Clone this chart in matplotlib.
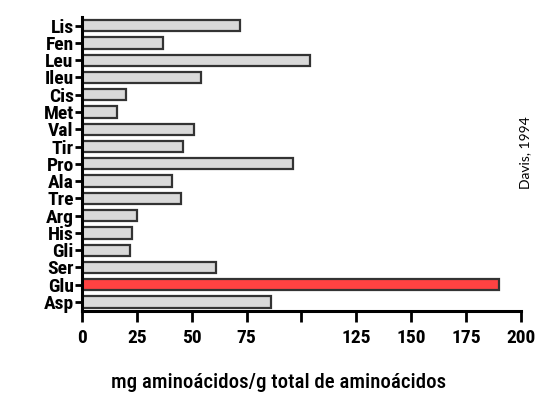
import matplotlib.pyplot as plt

plt.rcParams['font.family'] = ['DejaVu Sans Condensed', 'Liberation Sans Narrow',
                               'Roboto Condensed', 'Liberation Sans', 'DejaVu Sans']

# amino acids, top to bottom as in the picture
aminoacidos = ['Lis', 'Fen', 'Leu', 'Ileu', 'Cis', 'Met', 'Val', 'Tir', 'Pro',
               'Ala', 'Tre', 'Arg', 'His', 'Gli', 'Ser', 'Glu', 'Asp']
valores = [72, 37, 104, 54, 20, 16, 51, 46, 96, 41, 45, 25, 23, 22, 61, 190, 86]
destaque = 'Glu'

xticks = [0, 25, 50, 75, 100, 125, 150, 175, 200]
xtick_labels = ['0', '25', '50', '75', '', '125', '150', '175', '200']

fig = plt.figure(figsize=(5.38, 3.95), dpi=100)
ax = fig.add_axes([0.1524, 0.2127, 0.8160, 0.7443])

n = len(aminoacidos)
pos = list(range(n - 1, -1, -1))
cores = ['#ff4242' if a == destaque else '#d9d9d9' for a in aminoacidos]
ax.barh(pos, valores, height=0.65, color=cores, edgecolor='#333333', linewidth=1.6)

ax.set_xlim(0, 200)
ax.set_ylim(-0.52, n - 0.5)
ax.set_yticks(pos)
ax.set_yticklabels(aminoacidos, fontsize=14, fontweight='bold')
ax.set_xticks(xticks)
ax.set_xticklabels(xtick_labels, fontsize=14, fontweight='bold')

for s in ['top', 'right']:
    ax.spines[s].set_visible(False)
for s in ['left', 'bottom']:
    ax.spines[s].set_linewidth(2.2)
ax.tick_params(axis='y', length=5, width=2, pad=1)
ax.tick_params(axis='x', length=8, width=2, pad=5)

fig.text(0.517, 0.018, 'mg aminoácidos/g total de aminoácidos', ha='center',
         fontsize=15, fontweight='medium')
fig.text(0.977, 0.613, 'Davis, 1994', rotation=90, ha='center', va='center',
         fontsize=10, family=['Lato', 'DejaVu Sans'])

fig.savefig('out.png', dpi=100)
